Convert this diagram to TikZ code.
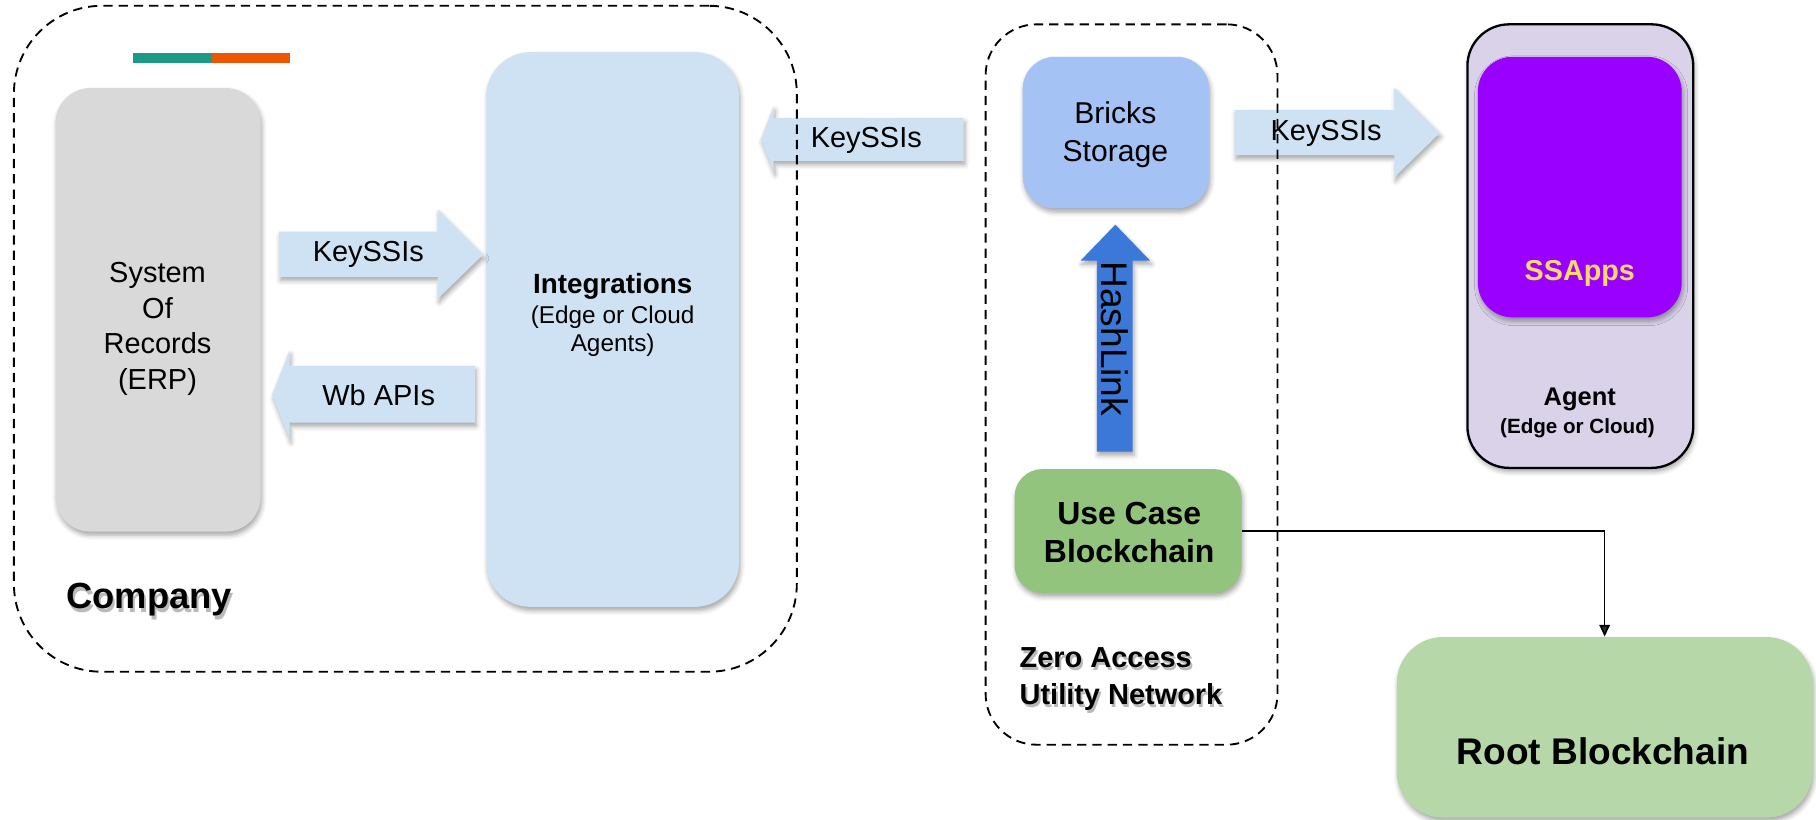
\documentclass[tikz,border=0pt]{standalone}
\usepackage{fontspec}
\setmainfont{Liberation Sans}
\usetikzlibrary{shadows.blur, arrows.meta}

\definecolor{sorgray}{HTML}{D9D9D9}
\definecolor{paleblue}{HTML}{CFE2F3}
\definecolor{brickblue}{HTML}{A4C2F4}
\definecolor{hashblue}{HTML}{3C78D8}
\definecolor{usegreen}{HTML}{93C47D}
\definecolor{rootgreen}{HTML}{B6D7A8}
\definecolor{agentlilac}{HTML}{D9D2E9}
\definecolor{ssviolet}{HTML}{9900FF}
\definecolor{ssyellow}{HTML}{FFD966}
\definecolor{barteal}{HTML}{1A9A89}
\definecolor{barorange}{HTML}{EB5600}

\begin{document}
\begin{tikzpicture}[x=0.5pt, y=-0.5pt,
  soft/.style={blur shadow={shadow xshift=0.6pt, shadow yshift=-1.6pt,
      shadow blur radius=2pt, shadow opacity=35}},
  box/.style={soft, draw=none, inner sep=0pt},
  zone/.style={draw=black, line width=0.8pt, dash pattern=on 4pt off 2.6pt,
      inner sep=0pt},
  label/.style={inner sep=0pt},
  txtshadow/.style={inner sep=0pt, text=black!45, opacity=0.6}
]
\useasboundingbox (0,0) rectangle (1568,708);

% accent bar
\fill[barteal] (115,45.5) rectangle (183,54);
\fill[barorange] (183,45.5) rectangle (250,54);

% company side
\node[box, fill=sorgray, rounded corners=15pt, minimum width=88.5pt,
      minimum height=191.5pt] (sor) at (136.5,267.5) {};
\node[box, fill=paleblue, rounded corners=19pt, minimum width=109pt,
      minimum height=239.5pt] (integ) at (529,284.5) {};
\node[label, font=\fontsize{12.5}{15.5}\selectfont, align=center]
      (sortext) at (136,284) {System\\Of\\Records\\(ERP)};
\node[label, font=\bfseries\fontsize{12}{14}\selectfont]
      (integtitle) at (529,247) {Integrations};
\node[label, font=\fontsize{10.5}{12}\selectfont, align=center]
      (integsub) at (529,286) {(Edge or Cloud\\Agents)};

% block arrows between the systems
\path[fill=paleblue, soft] (241,200) -- (378,200) -- (378,181) -- (417,220)
      -- (378,258) -- (378,239) -- (241,239) -- cycle;
\node[label, font=\fontsize{12.5}{15}\selectfont] (keyA) at (318,220) {KeySSIs};

\path[fill=paleblue, soft] (410,316) -- (250,316) -- (250,303) -- (235,341)
      -- (250,379) -- (250,365) -- (410,365) -- cycle;
\node[label, font=\fontsize{12.5}{15}\selectfont] (wbapi) at (327,341) {Wb APIs};

\path[fill=paleblue, soft] (832,102) -- (668,102) -- (668,92) -- (657,120)
      -- (668,148) -- (668,139) -- (832,139) -- cycle;
\node[label, font=\fontsize{12.5}{15}\selectfont] (keyB) at (748,121) {KeySSIs};

\path[fill=paleblue, soft] (1066,95) -- (1204,95) -- (1204,76) -- (1243,115)
      -- (1204,153) -- (1204,134) -- (1066,134) -- cycle;
\node[label, font=\fontsize{12.5}{15}\selectfont] (keyC) at (1145,115) {KeySSIs};

% zero access network
\node[box, fill=brickblue, rounded corners=14pt, minimum width=80.5pt,
      minimum height=65.5pt] (bricks) at (963.5,114.5) {};
\node[label, font=\fontsize{13}{16.5}\selectfont, align=center]
      (brickstext) at (963,116) {Bricks\\Storage};

\path[fill=hashblue, soft] (947,390) -- (947,225) -- (933,225) -- (963,194)
      -- (993,225) -- (978,225) -- (978,390) -- cycle;
\node[label, rotate=-90, font=\fontsize{16}{18}\selectfont]
      (hashlink) at (962.5,292.5) {HashLink};

\node[box, fill=usegreen, rounded corners=12pt, minimum width=98pt,
      minimum height=53.5pt] (usecase) at (974,458.5) {};
\node[label, font=\bfseries\fontsize{13.8}{16.5}\selectfont, align=center]
      (usecasetext) at (975,460) {Use Case\\Blockchain};

% agent
\node[box, draw=black, line width=1pt, fill=agentlilac, rounded corners=18pt,
      minimum width=97.5pt, minimum height=191.5pt] (agent) at (1364.5,212.5) {};
\node[box, fill=ssviolet, rounded corners=15pt, minimum width=88pt,
      minimum height=112.5pt] (ssapps) at (1364,161.5) {};
\node[label, text=ssyellow, font=\bfseries\fontsize{12.4}{15}\selectfont]
      (ssappstext) at (1364,236) {SSApps};
\node[label, font=\bfseries\fontsize{11}{13}\selectfont]
      (agenttext) at (1364,345) {Agent};
\node[label, font=\bfseries\fontsize{8.9}{11}\selectfont]
      (agentsub) at (1362,370) {(Edge or Cloud)};

% root chain
\node[box, fill=rootgreen, rounded corners=20pt, minimum width=179.5pt,
      minimum height=78pt] (root) at (1385.5,628) {};
\node[label, font=\bfseries\fontsize{16}{19}\selectfont]
      (roottext) at (1384,649) {Root Blockchain};

\draw[line width=0.7pt, -{Triangle[length=5pt, width=4.5pt]}]
      (usecase.east) -| (root.north);

% group outlines
\node[zone, rounded corners=38pt, minimum width=338pt, minimum height=287.5pt]
      (company) at (350,292.5) {};
\node[zone, rounded corners=22pt, minimum width=126pt, minimum height=311pt]
      (zero) at (977,332) {};

% group titles
\node[txtshadow, anchor=west, font=\bfseries\fontsize{15.7}{18}\selectfont]
      at ([xshift=0.8pt, yshift=-1.4pt]57,518) {Company};
\node[label, anchor=west, font=\bfseries\fontsize{15.7}{18}\selectfont]
      (companytext) at (57,518) {Company};
\node[txtshadow, anchor=west, align=left, font=\bfseries\fontsize{12.5}{16}\selectfont]
      at ([xshift=0.8pt, yshift=-1.4pt]880,586) {Zero Access\\Utility Network};
\node[label, anchor=west, align=left, font=\bfseries\fontsize{12.5}{16}\selectfont]
      (zerotext) at (880,586) {Zero Access\\Utility Network};
\end{tikzpicture}
\end{document}
